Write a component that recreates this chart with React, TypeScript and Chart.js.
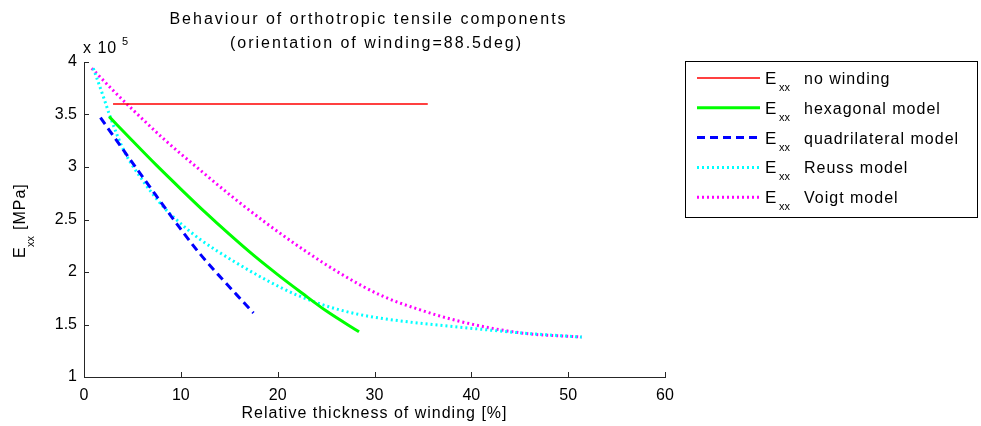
import React, { useEffect, useRef } from "react";
import { Chart, registerables } from "chart.js";

Chart.register(...registerables);

// ---- data (y in units of 1e5 MPa) ----
const noWindingX = [3.0, 35.5];
const noWindingY = [3.6, 3.6];

const hexX = [2.6, 5.0, 7.5, 10.0, 12.5, 15.0, 17.5, 20.0, 22.5, 25.0, 28.4];
const hexY = [3.48, 3.25, 3.015, 2.79, 2.57, 2.36, 2.16, 1.975, 1.80, 1.63, 1.43];

const quadX = [1.7, 4.0, 6.8, 10.3, 12.0, 14.2, 16.6, 17.5];
const quadY = [3.47, 3.17, 2.81, 2.37, 2.17, 1.94, 1.70, 1.61];

const reussX = [0.96, 2.0, 2.7, 4.1, 6.0, 8.2, 10.0, 12.0, 15.5, 18.9, 22.0, 25.8, 29.0, 32.6, 38.8, 45.1, 51.4];
const reussY = [3.94, 3.67, 3.48, 3.16, 2.88, 2.62, 2.46, 2.31, 2.10, 1.92, 1.78, 1.655, 1.585, 1.535, 1.475, 1.42, 1.38];

const voigtX = [0.8, 3.0, 5.1, 8.2, 12.0, 15.4, 18.9, 22.7, 26.4, 30.6, 34.7, 38.8, 45.1, 51.4];
const voigtY = [3.94, 3.73, 3.54, 3.27, 2.97, 2.71, 2.46, 2.21, 1.99, 1.78, 1.64, 1.53, 1.42, 1.38];

const xTicks = [0, 10, 20, 30, 40, 50, 60];
const yTicks = [1, 1.5, 2, 2.5, 3, 3.5, 4];

const titleLines = [
  "Behaviour of orthotropic tensile components",
  "(orientation of winding=88.5deg)",
];
const xTitle = "Relative thickness of winding [%]";
const legendLabels = [
  "no winding",
  "hexagonal model",
  "quadrilateral model",
  "Reuss model",
  "Voigt model",
];

const FONT = "'Liberation Sans', Arial, Helvetica, sans-serif";

const toPts = (xs: number[], ys: number[]) => xs.map((x, i) => ({ x, y: ys[i] }));

const seriesStyles = [
  { color: "#ff0000", width: 1.5, dash: [] as number[] },
  { color: "#00ff00", width: 3, dash: [] as number[] },
  { color: "#0000ff", width: 3, dash: [8, 5] },
  { color: "#00ffff", width: 3, dash: [2, 3] },
  { color: "#ff00ff", width: 3, dash: [2, 3] },
];

const decorPlugin = {
  id: "decor",
  afterDraw(chart: any) {
    const ctx = chart.ctx as CanvasRenderingContext2D;
    const xs = chart.scales.x;
    const ys = chart.scales.y;
    const area = chart.chartArea;
    const cx = (area.left + area.right) / 2;
    ctx.save();
    ctx.fillStyle = "#000";
    ctx.textBaseline = "alphabetic";
    // title
    ctx.font = `16px ${FONT}`;
    (ctx as any).letterSpacing = "2px";
    ctx.textAlign = "center";
    ctx.fillText(titleLines[0], cx - 6, 24);
    ctx.fillText(titleLines[1], cx + 2, 48);
    // x title
    (ctx as any).letterSpacing = "1px";
    ctx.fillText(xTitle, cx, 418);
    // exponent
    ctx.textAlign = "left";
    ctx.fillText("x 10", 83, 53);
    ctx.font = `11px ${FONT}`;
    (ctx as any).letterSpacing = "0px";
    ctx.fillText("5", 122, 45);
    // y title rotated
    ctx.save();
    ctx.translate(25, 258);
    ctx.rotate(-Math.PI / 2);
    ctx.font = `16px ${FONT}`;
    ctx.textAlign = "left";
    ctx.fillText("E", 0, 0);
    ctx.font = `11px ${FONT}`;
    ctx.fillText("xx", 11, 9);
    ctx.font = `16px ${FONT}`;
    (ctx as any).letterSpacing = "1px";
    ctx.fillText("[MPa]", 28, 0);
    ctx.restore();
    (ctx as any).letterSpacing = "0px";
    // inward ticks
    ctx.strokeStyle = "#262626";
    ctx.lineWidth = 1;
    ctx.beginPath();
    xTicks.forEach((v) => {
      const px = Math.round(xs.getPixelForValue(v)) + 0.5;
      ctx.moveTo(px, area.bottom);
      ctx.lineTo(px, area.bottom - 5);
    });
    yTicks.forEach((v) => {
      const py = Math.round(ys.getPixelForValue(v)) + 0.5;
      ctx.moveTo(area.left, py);
      ctx.lineTo(area.left + 5, py);
    });
    ctx.stroke();
    // legend
    const bx = 685.5, by = 61.5, bw = 292, bh = 156;
    ctx.fillStyle = "#fff";
    ctx.fillRect(bx, by, bw, bh);
    ctx.strokeStyle = "#000";
    ctx.strokeRect(bx, by, bw, bh);
    legendLabels.forEach((lab, i) => {
      const ry = 78 + i * 29.8;
      const st = seriesStyles[i];
      ctx.save();
      ctx.strokeStyle = st.color;
      ctx.lineWidth = st.width;
      ctx.setLineDash(st.dash);
      ctx.beginPath();
      ctx.moveTo(697, ry);
      ctx.lineTo(760, ry);
      ctx.stroke();
      ctx.restore();
      ctx.fillStyle = "#000";
      ctx.textAlign = "left";
      ctx.font = `17px ${FONT}`;
      ctx.fillText("E", 765, ry + 6);
      ctx.font = `11px ${FONT}`;
      ctx.fillText("xx", 779, ry + 13);
      ctx.font = `16px ${FONT}`;
      (ctx as any).letterSpacing = "1px";
      ctx.fillText(lab, 804, ry + 6);
      (ctx as any).letterSpacing = "0px";
    });
    ctx.restore();
  },
};

export default function App() {
  const ref = useRef<HTMLCanvasElement | null>(null);
  useEffect(() => {
    if (!ref.current) return;
    const series = [
      toPts(noWindingX, noWindingY),
      toPts(hexX, hexY),
      toPts(quadX, quadY),
      toPts(reussX, reussY),
      toPts(voigtX, voigtY),
    ];
    const chart = new Chart(ref.current, {
      type: "scatter",
      data: {
        datasets: series.map((d, i) => ({
          label: "E_xx " + legendLabels[i],
          data: d,
          showLine: true,
          borderColor: seriesStyles[i].color,
          backgroundColor: seriesStyles[i].color,
          borderWidth: seriesStyles[i].width,
          borderDash: seriesStyles[i].dash,
          borderCapStyle: "butt",
          pointRadius: 0,
          cubicInterpolationMode: "monotone",
        })),
      },
      options: {
        animation: false,
        responsive: false,
        devicePixelRatio: 1,
        layout: { padding: { left: 0, top: 62, right: 316, bottom: 0 } },
        plugins: { legend: { display: false }, tooltip: { enabled: false }, title: { display: false } },
        scales: {
          x: {
            type: "linear",
            min: 0,
            max: 60,
            afterFit: (s: any) => { s.height = 49; },
            afterBuildTicks: (s: any) => { s.ticks = xTicks.map((v) => ({ value: v })); },
            grid: { drawOnChartArea: false, drawTicks: false },
            border: { color: "#262626", width: 1 },
            ticks: { color: "#000", font: { family: FONT, size: 16 }, padding: 9, maxRotation: 0, callback: (v: any) => String(v) },
          },
          y: {
            type: "linear",
            min: 1,
            max: 4,
            afterFit: (s: any) => { s.width = 84; },
            afterBuildTicks: (s: any) => { s.ticks = yTicks.map((v) => ({ value: v })); },
            grid: { drawOnChartArea: false, drawTicks: false },
            border: { color: "#262626", width: 1 },
            ticks: { color: "#000", font: { family: FONT, size: 16 }, padding: 7, callback: (v: any) => String(v) },
          },
        },
      } as any,
      plugins: [decorPlugin],
    });
    return () => chart.destroy();
  }, []);
  return (
    <div style={{ position: "absolute", left: 0, top: 0, width: 981, height: 426, background: "#fff" }}>
      <canvas ref={ref} width={981} height={426} style={{ display: "block", width: 981, height: 426 }} />
    </div>
  );
}
